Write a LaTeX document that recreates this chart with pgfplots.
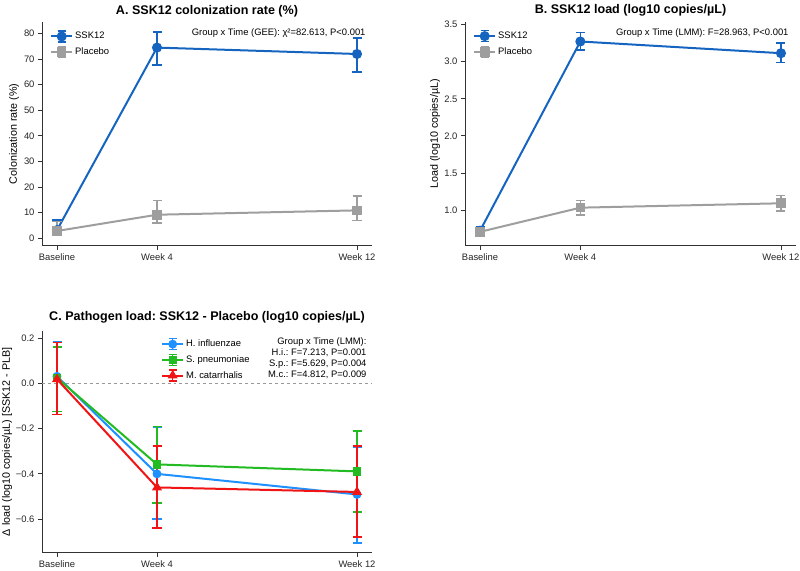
\documentclass[border=0pt]{standalone}
\usepackage{pgfplots}
\pgfplotsset{compat=1.18}
\usepackage{fontspec}
\setmainfont{Liberation Sans}
\frenchspacing

\definecolor{sskblue}{HTML}{1565C0}
\definecolor{plgray}{HTML}{9E9E9E}
\definecolor{hiblue}{HTML}{1E90FF}
\definecolor{spgreen}{HTML}{22BB22}
\definecolor{mcred}{HTML}{F01414}
\definecolor{spine}{HTML}{333333}

\newcommand{\ticksize}{\fontsize{9.45}{11}\selectfont}

\pgfplotsset{
  panel/.style={
    scale only axis,
    axis x line*=bottom, axis y line*=left,
    xmin=-0.6, xmax=12.6,
    xtick={0,4,12}, xticklabels={Baseline,Week 4,Week 12},
    tick align=outside, major tick length=4bp,
    tick style={spine, line width=0.8bp},
    axis line style={spine, line width=0.8bp},
    ticklabel style={font=\ticksize, text=black!85},
    /pgf/number format/assume math mode=true,
    title style={font=\bfseries\fontsize{12.6}{14}\selectfont, at={(rel axis cs:0.5,1)}, anchor=base, yshift=2bp},
    ylabel style={font=\fontsize{10.8}{12}\selectfont},
    legend cell align=left,
    legend style={draw=none, fill=none, font=\ticksize, at={(rel axis cs:0,1)}, anchor=north west,
      inner sep=0pt, row sep=3.2bp},
    legend image code/.code={
      \draw[##1, mark=none] (0bp,0bp) -- (21bp,0bp);
      \draw[##1, mark=none, line width=1.5bp] (10.5bp,-5.5bp) -- (10.5bp,5.5bp)
           (6.5bp,5.5bp) -- (14.5bp,5.5bp) (6.5bp,-5.5bp) -- (14.5bp,-5.5bp);
      \draw[##1, mark repeat=2, mark phase=2] plot coordinates {(0bp,0bp) (10.5bp,0bp) (21bp,0bp)};
    },
  },
  ser/.style={
    color=#1, line width=2bp, mark options={solid, fill=#1},
    error bars/y dir=both, error bars/y explicit,
    error bars/error bar style={line width=1.5bp, color=#1},
    error bars/error mark options={rotate=90, mark size=4.5bp, line width=1.5bp, color=#1},
  },
}

\begin{document}
\begin{tikzpicture}
\useasboundingbox (0bp,0bp) rectangle (800bp,571bp);

% Panel A: colonization rate
\begin{axis}[panel, at={(42bp,325.3bp)}, anchor=south west, width=330bp, height=223.7bp,
  ymin=-2.9, ymax=84.5, ytick={0,10,...,80},
  title={A. SSK12 colonization rate (\%)},
  ylabel={Colonization rate (\%)},
  ylabel style={at={(rel axis cs:0,0.5)}, anchor=center, yshift=28bp},
  legend style={xshift=8bp, yshift=-8bp}]
\addplot[ser=sskblue, mark=*, mark size=4bp] coordinates {
  (0,3.2) += (0,3.9) -= (0,2.0)
  (4,74.5) += (0,6.1) -= (0,6.8)
  (12,72.0) += (0,6.2) -= (0,7.0)};
\addlegendentry{SSK12}
\addplot[ser=plgray, mark=square*, mark size=3.8bp] coordinates {
  (0,2.85) += (0,3.65) -= (0,1.55)
  (4,9.2) += (0,5.5) -= (0,3.3)
  (12,10.9) += (0,5.6) -= (0,3.9)};
\addlegendentry{Placebo}
\node[anchor=east, font=\ticksize] at (rel axis cs:1,1) [xshift=-3bp, yshift=-11.5bp]
  {Group x Time (GEE): χ²=82.613, P<0.001};
\end{axis}

% Panel B: SSK12 load
\begin{axis}[panel, at={(465bp,325.3bp)}, anchor=south west, width=331bp, height=224bp,
  ymin=0.518, ymax=3.54, ytick={1.0,1.5,...,3.5},
  yticklabel style={/pgf/number format/.cd, fixed, fixed zerofill, precision=1},
  title={B. SSK12 load (log10 copies/µL)},
  ylabel={Load (log10 copies/µL)},
  ylabel style={at={(rel axis cs:0,0.5)}, anchor=center, yshift=30bp},
  legend style={xshift=8bp, yshift=-8bp}]
\addplot[ser=sskblue, mark=*, mark size=4bp] coordinates {
  (0,0.72) += (0,0.05) -= (0,0.05)
  (4,3.273) += (0,0.122) -= (0,0.113)
  (12,3.115) += (0,0.135) -= (0,0.125)};
\addlegendentry{SSK12}
\addplot[ser=plgray, mark=square*, mark size=3.8bp] coordinates {
  (0,0.705) += (0,0.06) -= (0,0.045)
  (4,1.031) += (0,0.10) -= (0,0.10)
  (12,1.09) += (0,0.105) -= (0,0.104)};
\addlegendentry{Placebo}
\node[anchor=east, font=\ticksize] at (rel axis cs:1,1) [xshift=-4bp, yshift=-11.5bp]
  {Group x Time (LMM): F=28.963, P<0.001};
\end{axis}

% Panel C: pathogen load difference
\begin{axis}[panel, at={(42bp,18.3bp)}, anchor=south west, width=330bp, height=222bp,
  ymin=-0.749, ymax=0.234, ytick={-0.6,-0.4,-0.2,0,0.2},
  yticklabels={−0.6,−0.4,−0.2,0.0,0.2},
  title={C. Pathogen load: SSK12 - Placebo (log10 copies/µL)},
  title style={yshift=2bp},
  ylabel={Δ load (log10 copies/µL) [SSK12 - PLB]},
  ylabel style={at={(rel axis cs:0,0.5)}, anchor=center, yshift=35bp},
  legend style={xshift=119bp, yshift=-7bp}]
\addplot[forget plot, color=gray!80, dashed, line width=0.8bp] coordinates {(-0.6,0) (12.6,0)};
\addplot[ser=hiblue, mark=*, mark size=3.4bp] coordinates {
  (0,0.032) += (0,0.155) -= (0,0.169)
  (4,-0.40) += (0,0.205) -= (0,0.20)
  (12,-0.491) += (0,0.21) -= (0,0.216)};
\addlegendentry{H. influenzae}
\addplot[ser=spgreen, mark=square*, mark size=3.2bp] coordinates {
  (0,0.025) += (0,0.137) -= (0,0.148)
  (4,-0.358) += (0,0.168) -= (0,0.17)
  (12,-0.389) += (0,0.178) -= (0,0.179)};
\addlegendentry{S. pneumoniae}
\addplot[ser=mcred, mark=triangle*, mark size=3.8bp] coordinates {
  (0,0.019) += (0,0.162) -= (0,0.157)
  (4,-0.46) += (0,0.183) -= (0,0.179)
  (12,-0.48) += (0,0.203) -= (0,0.199)};
\addlegendentry{M. catarrhalis}
\node[anchor=north east, align=right, font=\fontsize{9.45}{11.3}\selectfont] at (rel axis cs:1,1) [xshift=-2bp, yshift=-3bp]
  {Group x Time (LMM):\\H.i.: F=7.213, P=0.001\\S.p.: F=5.629, P=0.004\\M.c.: F=4.812, P=0.009};
\end{axis}
\end{tikzpicture}
\end{document}
